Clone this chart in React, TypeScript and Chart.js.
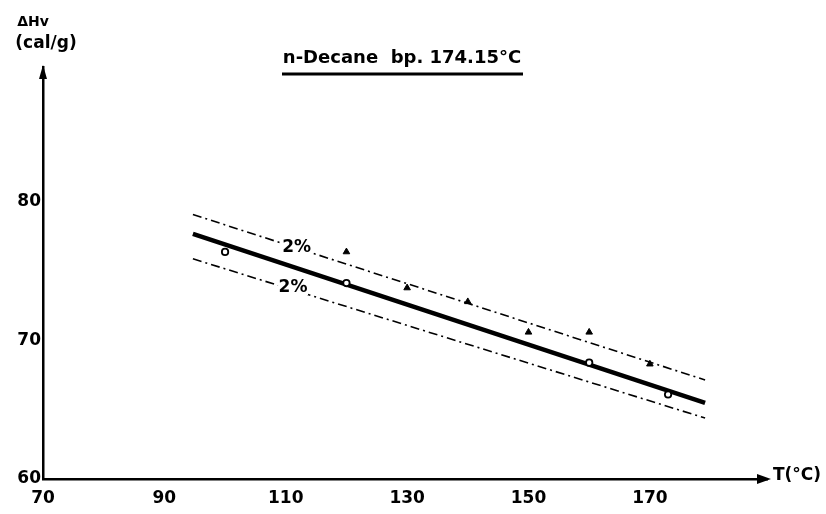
import React, { useEffect, useRef } from "react";
import { Chart, registerables } from "chart.js";

Chart.register(...registerables);

const xTicks = [70, 90, 110, 130, 150, 170];
const yTicks = [60, 70, 80];

const mainLine = [
  { x: 94.7, y: 77.7 },
  { x: 179.1, y: 65.5 },
];
const upperLine = [
  { x: 94.7, y: 79.1 },
  { x: 179.1, y: 67.15 },
];
const lowerLine = [
  { x: 94.7, y: 75.9 },
  { x: 179.1, y: 64.4 },
];
const circleT = [100, 120, 160, 173];
const circleH = [76.4, 74.15, 68.4, 66.1];
const triangleT = [120, 130, 140, 150, 160, 170];
const triangleH = [76.4, 73.8, 72.8, 70.6, 70.6, 68.3];

const FONT = "'DejaVu Sans', 'Liberation Sans', sans-serif";

const decor = {
  id: "decor",
  afterDraw(chart: any) {
    const ctx = chart.ctx;
    const { left, right, top, bottom } = chart.chartArea;
    const xs = chart.scales.x;
    const ys = chart.scales.y;
    ctx.save();
    ctx.fillStyle = "#000";
    ctx.strokeStyle = "#000";
    // arrows
    ctx.beginPath();
    ctx.moveTo(right + 4, bottom);
    ctx.lineTo(right - 10, bottom - 5);
    ctx.lineTo(right - 10, bottom + 5);
    ctx.closePath();
    ctx.fill();
    ctx.beginPath();
    ctx.moveTo(left, top - 2);
    ctx.lineTo(left - 4, top + 12);
    ctx.lineTo(left + 4, top + 12);
    ctx.closePath();
    ctx.fill();
    // axis labels
    ctx.textAlign = "center";
    ctx.textBaseline = "middle";
    ctx.font = "bold 14px " + FONT;
    ctx.fillText("\u0394Hv", 33, 22);
    ctx.font = "bold 17px " + FONT;
    ctx.fillText("(cal/g)", 46, 44);
    ctx.textAlign = "left";
    ctx.fillText("T(\u00B0C)", right + 6, bottom - 3);
    // title
    ctx.font = "bold 18px " + FONT;
    ctx.textAlign = "center";
    ctx.fillText("n-Decane  bp. 174.15\u00B0C", 402, 58);
    ctx.lineWidth = 3;
    ctx.beginPath();
    ctx.moveTo(282, 74);
    ctx.lineTo(523, 74);
    ctx.stroke();
    // 2% labels
    ctx.font = "bold 17px " + FONT;
    const labels = [
      { x: 111.8, y: 76.7 },
      { x: 111.2, y: 73.85 },
    ];
    for (const l of labels) {
      const px = xs.getPixelForValue(l.x);
      const py = ys.getPixelForValue(l.y);
      ctx.fillStyle = "#fff";
      ctx.fillRect(px - 15, py - 8, 30, 16);
      ctx.fillStyle = "#000";
      ctx.fillText("2%", px, py);
    }
    ctx.restore();
  },
};

export default function App() {
  const ref = useRef<HTMLCanvasElement>(null);
  useEffect(() => {
    if (!ref.current) return;
    const chart = new Chart(ref.current, {
      type: "scatter",
      data: {
        datasets: [
          {
            type: "line",
            data: mainLine,
            borderColor: "#000",
            borderWidth: 4.5,
            pointRadius: 0,
            order: 3,
          },
          {
            type: "line",
            data: upperLine,
            borderColor: "#000",
            borderWidth: 1.6,
            borderDash: [9, 4, 2, 4],
            pointRadius: 0,
            order: 3,
          },
          {
            type: "line",
            data: lowerLine,
            borderColor: "#000",
            borderWidth: 1.6,
            borderDash: [9, 4, 2, 4],
            pointRadius: 0,
            order: 3,
          },
          {
            data: circleT.map((t, i) => ({ x: t, y: circleH[i] })),
            pointStyle: "circle",
            pointRadius: 3.2,
            backgroundColor: "#fff",
            borderColor: "#000",
            borderWidth: 1.8,
            order: 1,
          },
          {
            data: triangleT.map((t, i) => ({ x: t, y: triangleH[i] })),
            pointStyle: "triangle",
            pointRadius: 3.8,
            backgroundColor: "#000",
            borderColor: "#000",
            borderWidth: 1,
            order: 1,
          },
        ],
      },
      options: {
        animation: false,
        responsive: true,
        maintainAspectRatio: false,
        layout: { padding: { left: 0, top: 67, right: 59, bottom: 0 } },
        plugins: { legend: { display: false }, tooltip: { enabled: false } },
        scales: {
          x: {
            type: "linear",
            min: 70,
            max: 189.3,
            grid: { display: false, drawTicks: false },
            border: { display: true, color: "#000", width: 2.5 },
            afterBuildTicks: (s: any) => {
              s.ticks = xTicks.map((v) => ({ value: v }));
            },
            afterFit: (s: any) => {
              s.height = 35;
            },
            ticks: {
              color: "#000",
              padding: 9,
              maxRotation: 0,
              autoSkip: false,
              font: { family: FONT, weight: "bold", size: 17 },
            },
          },
          y: {
            type: "linear",
            min: 60,
            max: 89.75,
            grid: { display: false, drawTicks: false },
            border: { display: true, color: "#000", width: 2.5 },
            afterBuildTicks: (s: any) => {
              s.ticks = yTicks.map((v) => ({ value: v }));
            },
            afterFit: (s: any) => {
              s.width = 43;
            },
            ticks: {
              color: "#000",
              padding: 2,
              autoSkip: false,
              font: { family: FONT, weight: "bold", size: 17 },
            },
          },
        },
      },
      plugins: [decor],
    } as any);
    return () => chart.destroy();
  }, []);
  return (
    <div
      style={{
        position: "absolute",
        left: 0,
        top: 0,
        width: 826,
        height: 514,
        background: "#fff",
      }}
    >
      <canvas ref={ref} />
    </div>
  );
}
